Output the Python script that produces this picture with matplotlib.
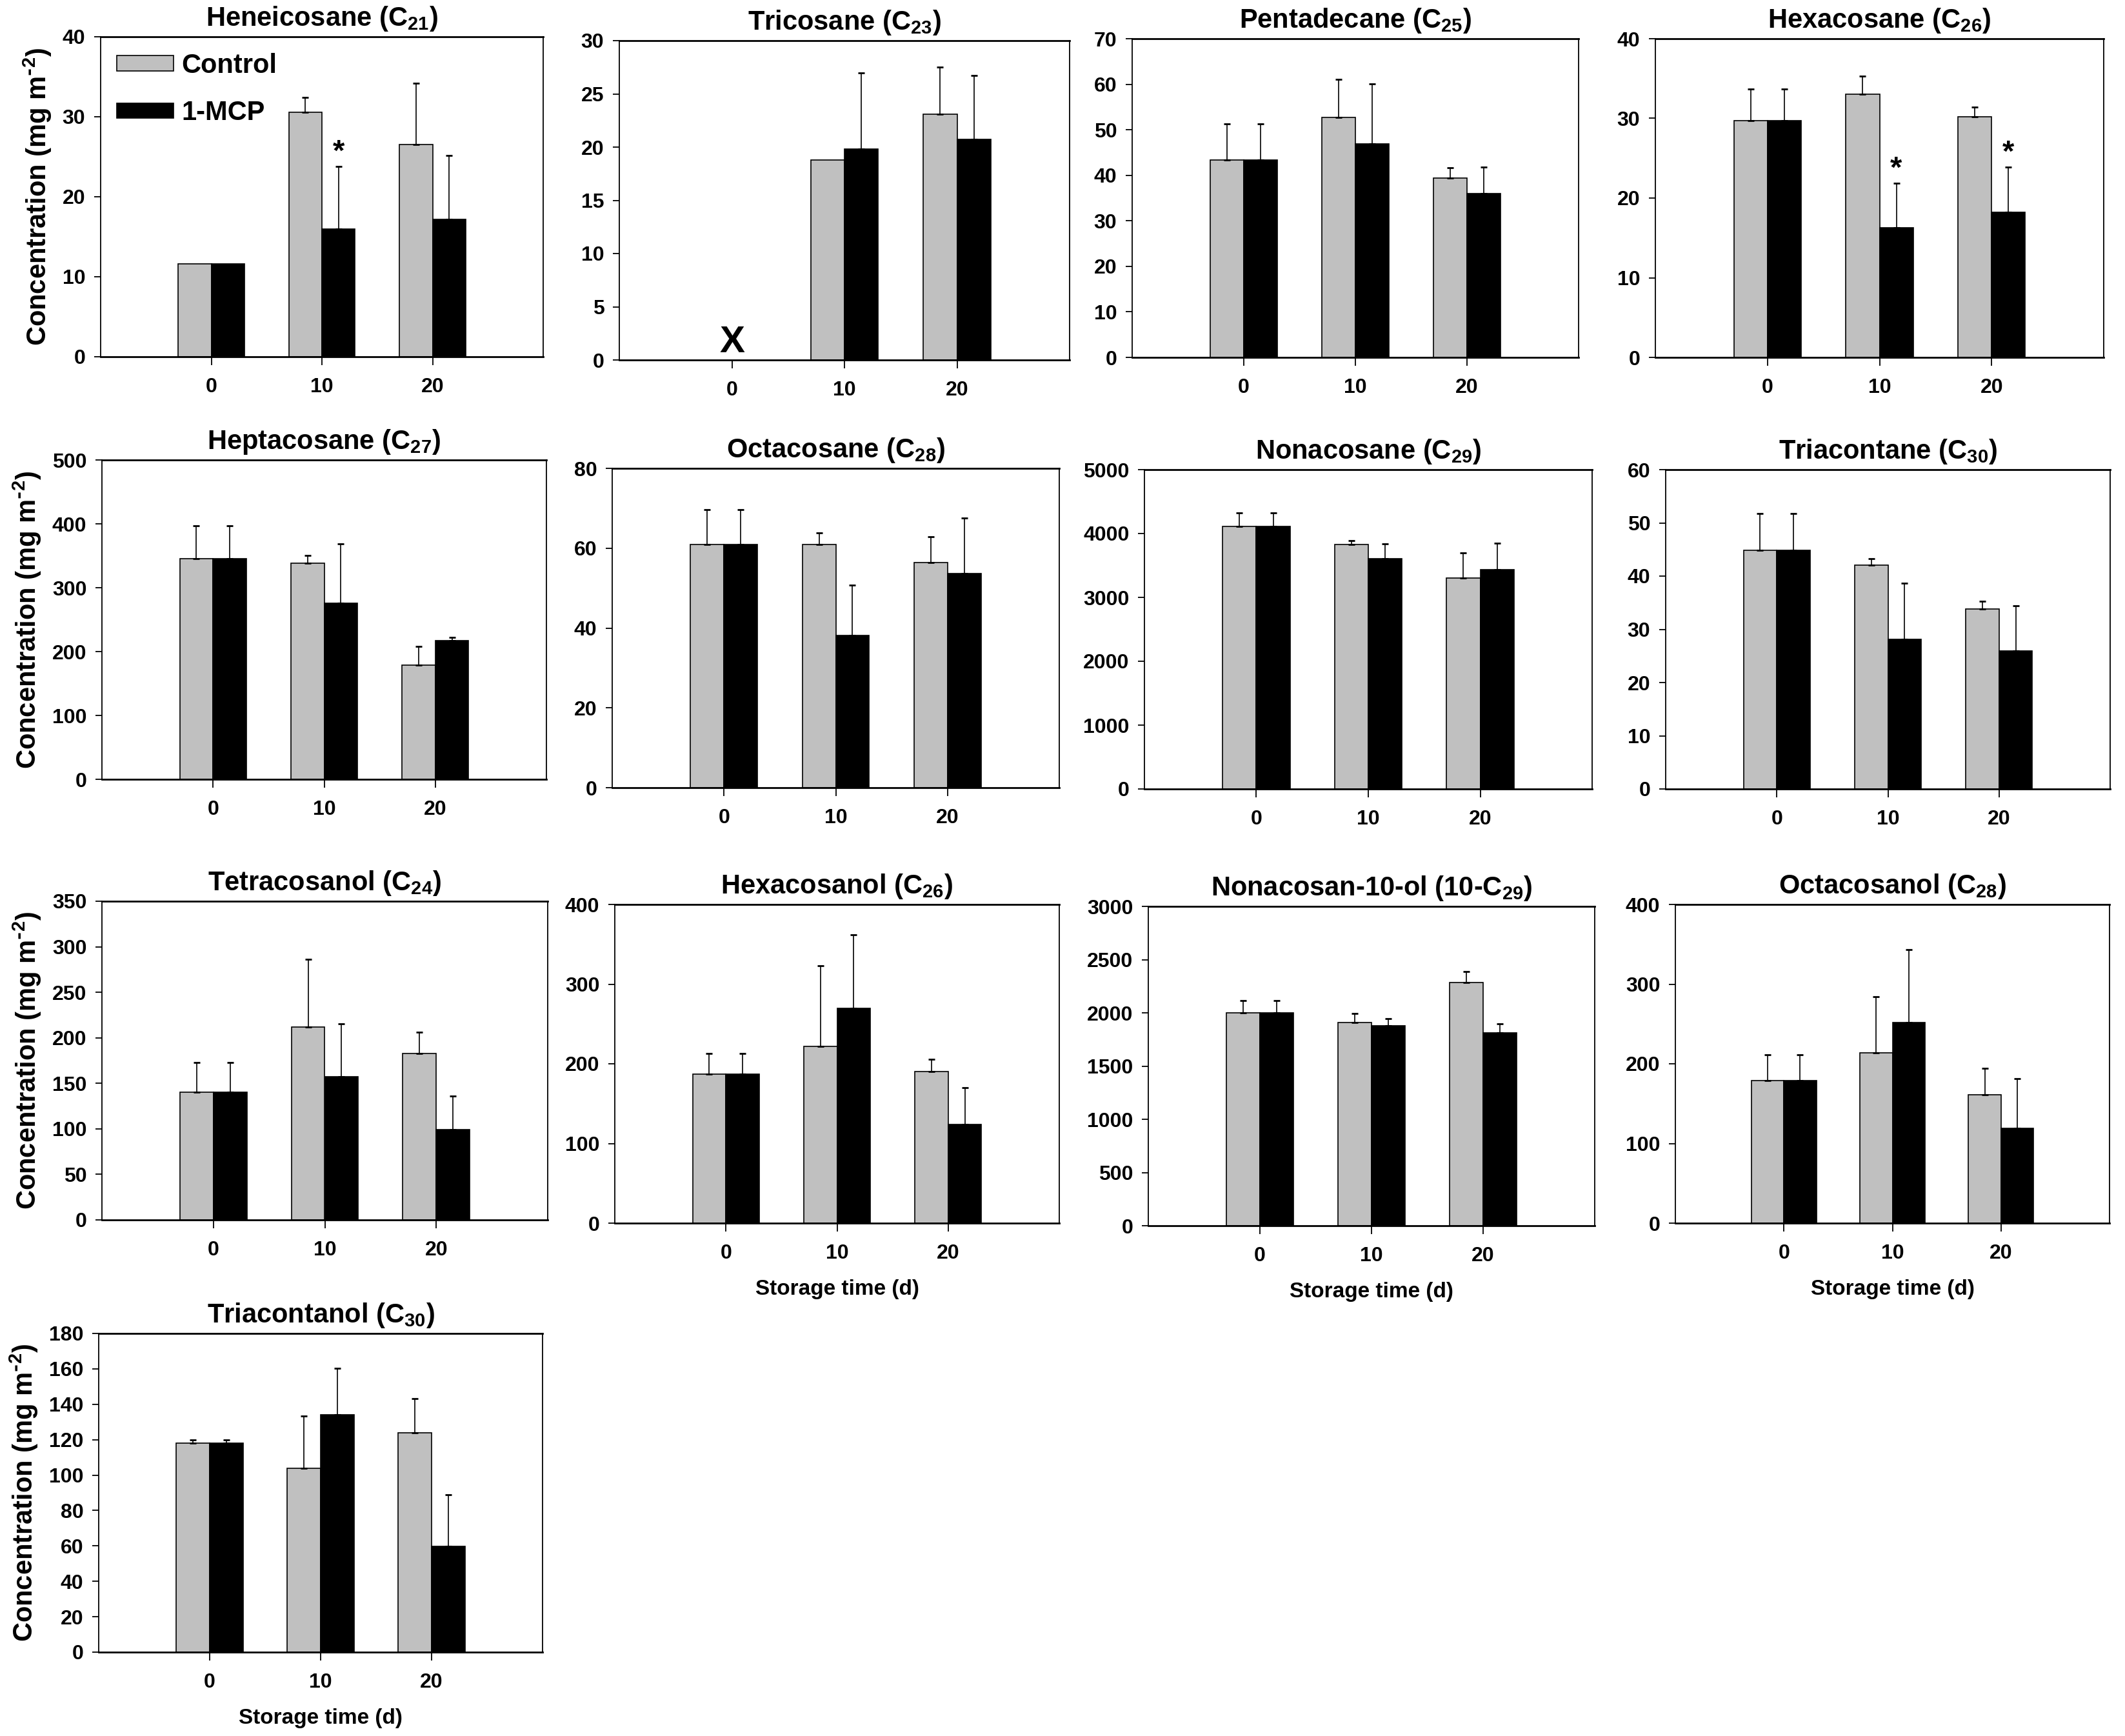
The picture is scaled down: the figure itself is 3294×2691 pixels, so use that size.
import numpy as np
import matplotlib
matplotlib.use("Agg")
import matplotlib.pyplot as plt
from matplotlib import font_manager

nan = np.nan

# panel titles and axis settings
titles = [r"Heneicosane (C$_{21}$)", r"Tricosane (C$_{23}$)", r"Pentadecane (C$_{25}$)",
          r"Hexacosane (C$_{26}$)", r"Heptacosane (C$_{27}$)", r"Octacosane (C$_{28}$)",
          r"Nonacosane (C$_{29}$)", r"Triacontane (C$_{30}$)", r"Tetracosanol (C$_{24}$)",
          r"Hexacosanol (C$_{26}$)", r"Nonacosan-10-ol (10-C$_{29}$)", r"Octacosanol (C$_{28}$)",
          r"Triacontanol (C$_{30}$)"]
ymax = [40, 30, 70, 40, 500, 80, 5000, 60, 350, 400, 3000, 400, 180]
ystep = [10, 5, 10, 10, 100, 20, 1000, 10, 50, 100, 500, 100, 20]
days = ["0", "10", "20"]

# control means and upper errors
ctrl_mean = [[11.6, 30.6, 26.5], [nan, 18.8, 23.1], [43.4, 52.7, 39.4], [29.7, 33.0, 30.2],
             [345, 338, 179], [61.0, 61.0, 56.4], [4110, 3830, 3300], [44.9, 42.1, 33.8],
             [140, 212, 183], [187, 222, 190], [2000, 1910, 2285], [179, 214, 161],
             [118, 104, 124]]
ctrl_err = [[nan, 1.8, 7.7], [nan, nan, 4.4], [7.9, 8.4, 2.2], [4.0, 2.3, 1.2],
            [52, 13, 29], [8.7, 2.9, 6.4], [210, 58, 400], [6.8, 1.2, 1.5],
            [33, 74, 23], [26, 101, 16], [117, 81, 103], [32, 70, 33],
            [2, 29.4, 19.2]]

# 1-MCP means and upper errors
mcp_mean = [[11.6, 16.0, 17.2], [nan, 19.8, 20.7], [43.4, 46.9, 36.0], [29.7, 16.3, 18.2],
            [345, 276, 217], [61.0, 38.2, 53.7], [4110, 3605, 3437], [44.9, 28.1, 25.9],
            [140, 157.6, 99.3], [187, 270, 124], [2000, 1877, 1811], [179, 252, 119],
            [118, 134, 59.6]]
mcp_err = [[nan, 7.8, 8.0], [nan, 7.2, 6.0], [7.9, 13.2, 5.8], [4.0, 5.6, 5.7],
           [52, 93, 5.4], [8.7, 12.5, 13.9], [210, 230, 411], [6.8, 10.6, 8.5],
           [33, 58, 37], [26, 92, 46], [117, 70, 83], [32, 91, 62],
           [2, 26.4, 29.2]]

# significance stars (panel, day index) on 1-MCP bars, and "not detected" marks
stars = [(0, 1), (3, 1), (3, 2)]
not_detected = [(1, 0)]

ylabel_panels = [0, 4, 8, 12]
xlabel_panels = [9, 10, 11, 12]

# axes boxes in pixels: left, top, right, bottom
W, H = 3294, 2691
boxes = [(156, 57, 842, 553), (960, 63, 1658, 558), (1755, 60, 2447, 554), (2566, 60, 3261, 554),
         (158, 713, 847, 1208), (949, 726, 1642, 1221), (1774, 728, 2468, 1223), (2582, 728, 3271, 1223),
         (158, 1397, 849, 1891), (953, 1402, 1642, 1896), (1780, 1405, 2472, 1900), (2597, 1402, 3270, 1896),
         (153, 2067, 841, 2561)]

installed = {f.name for f in font_manager.fontManager.ttflist}
narrow = "Liberation Sans Narrow" if "Liberation Sans Narrow" in installed else "Liberation Sans"

plt.rcParams["font.family"] = ["Liberation Sans", "DejaVu Sans"]
plt.rcParams["font.weight"] = "bold"
plt.rcParams["axes.titleweight"] = "bold"
plt.rcParams["axes.labelweight"] = "bold"
plt.rcParams["mathtext.default"] = "regular"

fig = plt.figure(figsize=(W / 100, H / 100), dpi=100)

x = np.arange(3)
w = 0.3
for i in range(13):
    l, t, r, b = boxes[i]
    ax = fig.add_axes([l / W, 1 - b / H, (r - l) / W, (b - t) / H])

    ax.bar(x - w / 2, ctrl_mean[i], w, color="#c0c0c0", edgecolor="black", linewidth=1.2, label="Control")
    ax.bar(x + w / 2, mcp_mean[i], w, color="black", edgecolor="black", linewidth=1.2, label="1-MCP")

    for j in range(3):
        for xc, m, e in [(x[j] - w / 2, ctrl_mean[i][j], ctrl_err[i][j]),
                         (x[j] + w / 2, mcp_mean[i][j], mcp_err[i][j])]:
            if np.isnan(m) or np.isnan(e):
                continue
            ax.errorbar(xc, m, yerr=[[0], [e]], fmt="none", ecolor="black",
                        elinewidth=1.2, capsize=3.5, capthick=2)

    for p, j in stars:
        if p == i:
            ax.annotate("*", (x[j] + w / 2, mcp_mean[i][j] + mcp_err[i][j]),
                        xytext=(0, 15), textcoords="offset points",
                        ha="center", va="center", fontsize=34, fontweight="bold")
    for p, j in not_detected:
        if p == i:
            ax.text(x[j], 0, "X", ha="center", va="bottom", fontsize=42, fontweight="bold")

    ax.set_xlim(-1, 3)
    ax.set_ylim(0, ymax[i])
    ax.set_yticks(np.arange(0, ymax[i] + ystep[i] / 2, ystep[i]))
    ax.set_xticks(x)
    ax.set_xticklabels(days)
    ax.tick_params(axis="y", direction="out", length=7, width=1.3, labelsize=23, pad=10)
    ax.tick_params(axis="x", direction="out", length=9, width=1.3, labelsize=23, pad=14)
    for s in ["left", "right"]:
        ax.spines[s].set_linewidth(1.3)
    for s in ["top", "bottom"]:
        ax.spines[s].set_linewidth(2)

    ax.set_title(titles[i], fontsize=30, pad=12)

    if i in ylabel_panels:
        ax.set_ylabel(r"Concentration (mg m$^{\text{-}2}$)", fontsize=30, family=narrow, labelpad=10)
    if i in xlabel_panels:
        ax.set_xlabel("Storage time (d)", fontsize=24, labelpad=18)

    if i == 0:
        ax.legend(loc="upper left", frameon=False, fontsize=30, handlelength=2.1,
                  handleheight=0.5, handletextpad=0.3, labelspacing=0.8,
                  borderaxespad=0.3, borderpad=0.3)

fig.savefig("out.png", dpi=100, facecolor="white")
